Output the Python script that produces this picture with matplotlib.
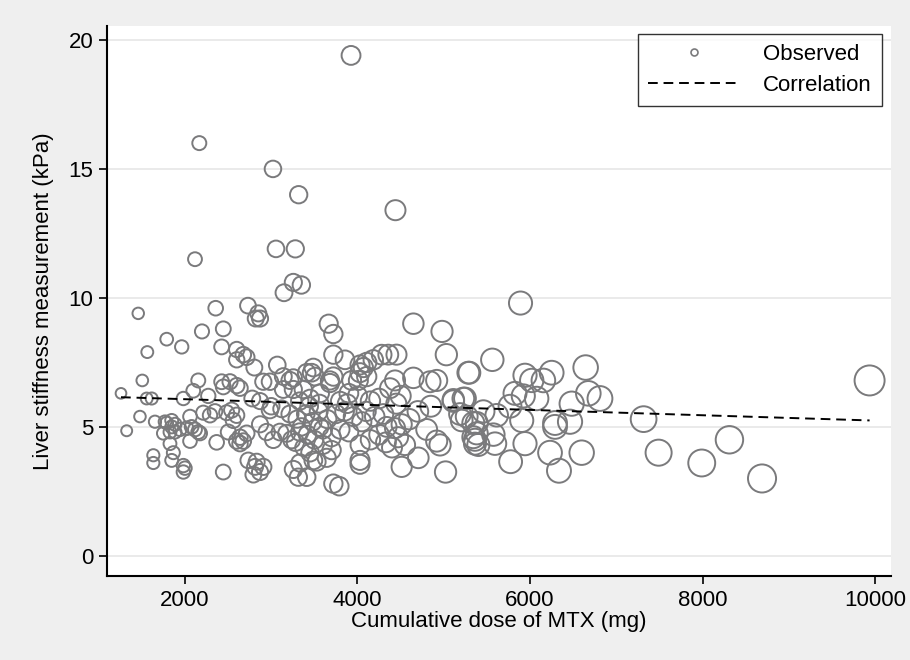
import matplotlib.pyplot as plt
from matplotlib.lines import Line2D

# cumulative MTX dose (mg) and liver stiffness (kPa)
dose_high = [3925, 2166, 3020, 3318, 4440, 2116, 3055, 3279, 3256, 3349, 3148, 5890,
             1458, 2356, 2730, 2850, 2870, 2820, 3666, 4648, 4980, 3720]
lsm_high = [19.4, 16.0, 15.0, 14.0, 13.4, 11.5, 11.9, 11.9, 10.6, 10.5, 10.2, 9.8,
            9.4, 9.6, 9.7, 9.4, 9.2, 9.2, 9.0, 9.0, 8.7, 8.6]

dose_mid = [2197, 2444, 1788, 1962, 1563, 2425, 2600, 2676, 2600, 2715, 2804, 3070,
            3720, 3855, 5030, 5285, 5563, 6645, 4029, 4107, 4183, 4280, 4357, 4452,
            4029, 4068, 4107, 4010, 3488, 3411, 3469, 3507, 3140, 3256, 5942, 6020,
            6155, 6251, 4648, 4841, 4918, 4435, 9937,
            1505, 2154, 2096, 2425, 2522, 2600, 2444, 2638, 2908, 2985, 3720, 3681,
            3932, 4377, 3217, 3140, 3256, 3372, 3565, 3681, 1258, 1556, 1614, 1981,
            2270, 5111, 5227, 5246, 5826, 5922, 6077, 5768, 6483, 6676, 6811, 5111,
            2780, 2870, 3000, 3330, 3450, 3560, 3800, 3900, 4000, 4150, 4250, 4450, 4500]
lsm_mid = [8.7, 8.8, 8.4, 8.1, 7.9, 8.1, 8.0, 7.8, 7.6, 7.7, 7.3, 7.4,
           7.8, 7.6, 7.8, 7.1, 7.6, 7.3, 7.4, 7.5, 7.6, 7.8, 7.8, 7.8,
           7.1, 7.3, 6.95, 6.8, 7.3, 7.1, 7.1, 6.95, 6.95, 6.9, 7.0, 6.8,
           6.8, 7.1, 6.9, 6.75, 6.8, 6.8, 6.8,
           6.8, 6.8, 6.4, 6.75, 6.75, 6.6, 6.55, 6.5, 6.75, 6.75, 6.95, 6.8,
           6.8, 6.5, 6.8, 6.45, 6.45, 6.45, 6.3, 6.7, 6.3, 6.1, 6.1, 6.1,
           6.2, 6.05, 6.1, 6.1, 6.3, 6.2, 6.1, 5.8, 5.9, 6.3, 6.1, 6.0,
           6.1, 6.0, 5.8, 6.0, 6.1, 5.9, 6.0, 6.3, 6.2, 6.0, 6.1, 5.9, 6.2]

dose_low = [1478, 1652, 1324, 1788, 1846, 1748, 1826, 1884, 2058, 2077, 2019, 2154,
            2058, 1826, 2367, 1768, 1846, 1884, 1942, 2116, 2174, 2212, 2290, 2348,
            2483, 2541, 2599, 2560, 2502, 2638, 2676, 2715, 2599, 2638, 2870, 2947,
            3024, 3101, 3179, 3237, 2985, 3121, 3217,
            3300, 3350, 3400, 3420, 3480, 3500, 3550, 3600, 3650, 3700, 3750, 3800,
            3850, 3900, 3950, 3280, 3380, 3450, 3600, 3700, 3330, 3560, 3880, 3440,
            4338, 4435, 4512, 4100, 4200, 4300, 4250, 4330, 4400, 4470, 4550, 4150,
            4600, 4700, 4802, 4918, 4957, 4030, 4050, 4850,
            1633, 1633, 1865, 1846, 1981, 2000, 1981, 2444, 2812, 2831, 2793, 2908,
            2870, 2734, 3256, 3314, 3411, 3720, 3789, 4029, 4029, 3527, 3643, 3488,
            3333, 4512, 4705, 5021,
            5188, 5266, 5343, 5343, 5362, 5208, 5459, 5614, 5382, 5382, 5362, 5401,
            5575, 5594, 5904, 6290, 6464, 6290, 7317, 5942, 6232, 6599, 5775, 6336,
            7491, 7991, 8312, 8690, 5297]
lsm_low = [5.4, 5.2, 4.85, 5.15, 5.0, 4.75, 4.8, 4.8, 5.4, 5.0, 4.95, 4.8,
           4.45, 4.35, 4.4, 5.2, 5.25, 5.1, 4.9, 4.9, 4.75, 5.55, 5.45, 5.6,
           5.55, 5.65, 5.45, 5.25, 4.8, 4.6, 4.45, 4.75, 4.45, 4.35, 5.1, 4.8,
           4.5, 4.8, 4.75, 4.5, 5.65, 5.7, 5.5,
           5.3, 5.0, 5.5, 4.7, 5.2, 4.5, 5.6, 4.9, 5.3, 4.6, 5.5, 4.9,
           5.6, 4.8, 5.4, 4.4, 4.2, 4.0, 4.3, 4.1, 4.8, 5.0, 5.9, 5.8,
           5.0, 4.95, 5.1, 5.6, 5.4, 5.5, 4.7, 4.4, 4.2, 4.6, 4.3, 4.5,
           5.3, 5.6, 4.9, 4.45, 4.3, 4.3, 5.2, 5.8,
           3.9, 3.6, 4.0, 3.7, 3.5, 3.4, 3.25, 3.25, 3.45, 3.65, 3.15, 3.45,
           3.25, 3.7, 3.35, 3.05, 3.05, 2.8, 2.7, 3.7, 3.55, 3.65, 3.8, 3.7,
           3.6, 3.45, 3.8, 3.25,
           5.5, 5.4, 5.15, 4.6, 4.35, 5.25, 5.6, 5.45, 5.15, 4.75, 4.5, 4.3,
           4.7, 4.35, 5.25, 5.15, 5.2, 5.0, 5.3, 4.35, 4.0, 4.0, 3.65, 3.3,
           4.0, 3.6, 4.5, 3.0, 7.1]

# fitted line, read at its two ends
fit_x = [1258, 9937]
fit_y = [6.15, 5.25]

x_ticks = [2000, 4000, 6000, 8000, 10000]
y_ticks = [0, 5, 10, 15, 20]

dose = dose_high + dose_mid + dose_low
lsm = lsm_high + lsm_mid + lsm_low

plt.rcParams['font.family'] = ['Liberation Sans', 'DejaVu Sans']

fig = plt.figure(figsize=(9.1, 6.6), dpi=100)
fig.patch.set_facecolor('#efefef')
ax = fig.add_axes([0.1176, 0.1273, 0.8615, 0.8333])
ax.set_facecolor('white')

# marker area proportional to dose (weighted scatter)
sizes = [d * 0.047 for d in dose]
ax.scatter(dose, lsm, s=sizes, facecolors='none', edgecolors='#7a7a7c',
           linewidths=1.4, zorder=3)
ax.plot(fit_x, fit_y, color='black', lw=1.4, linestyle=(0, (5, 3)), zorder=4)

ax.set_xlim(1096, 10185)
ax.set_ylim(-0.78, 20.54)
ax.set_xticks(x_ticks)
ax.set_yticks(y_ticks)
ax.yaxis.grid(True, color='#e6e6e6', lw=1.2)
ax.set_axisbelow(True)
for side in ['top', 'right']:
    ax.spines[side].set_visible(False)
for side in ['left', 'bottom']:
    ax.spines[side].set_linewidth(1.5)
ax.tick_params(direction='out', length=6, width=1.2, labelsize=16, pad=4)
ax.set_xlabel('Cumulative dose of MTX (mg)', fontsize=16, labelpad=0)
ax.set_ylabel('Liver stiffness measurement (kPa)', fontsize=16, labelpad=10)

handles = [Line2D([], [], marker='o', ls='none', mfc='none', mec='#7a7a7c', ms=5, mew=1.2),
           Line2D([], [], color='black', lw=1.4, ls=(0, (5, 3)))]
leg = ax.legend(handles, ['Observed', 'Correlation'], loc='upper right',
                bbox_to_anchor=(0.9885, 0.985), borderaxespad=0, fontsize=16,
                frameon=True, fancybox=False, handlelength=4.2, borderpad=0.45,
                labelspacing=0.45, handletextpad=1.0)
leg.get_frame().set_edgecolor('black')
leg.get_frame().set_linewidth(1.0)

plt.savefig('out.png', dpi=100, facecolor=fig.get_facecolor())
